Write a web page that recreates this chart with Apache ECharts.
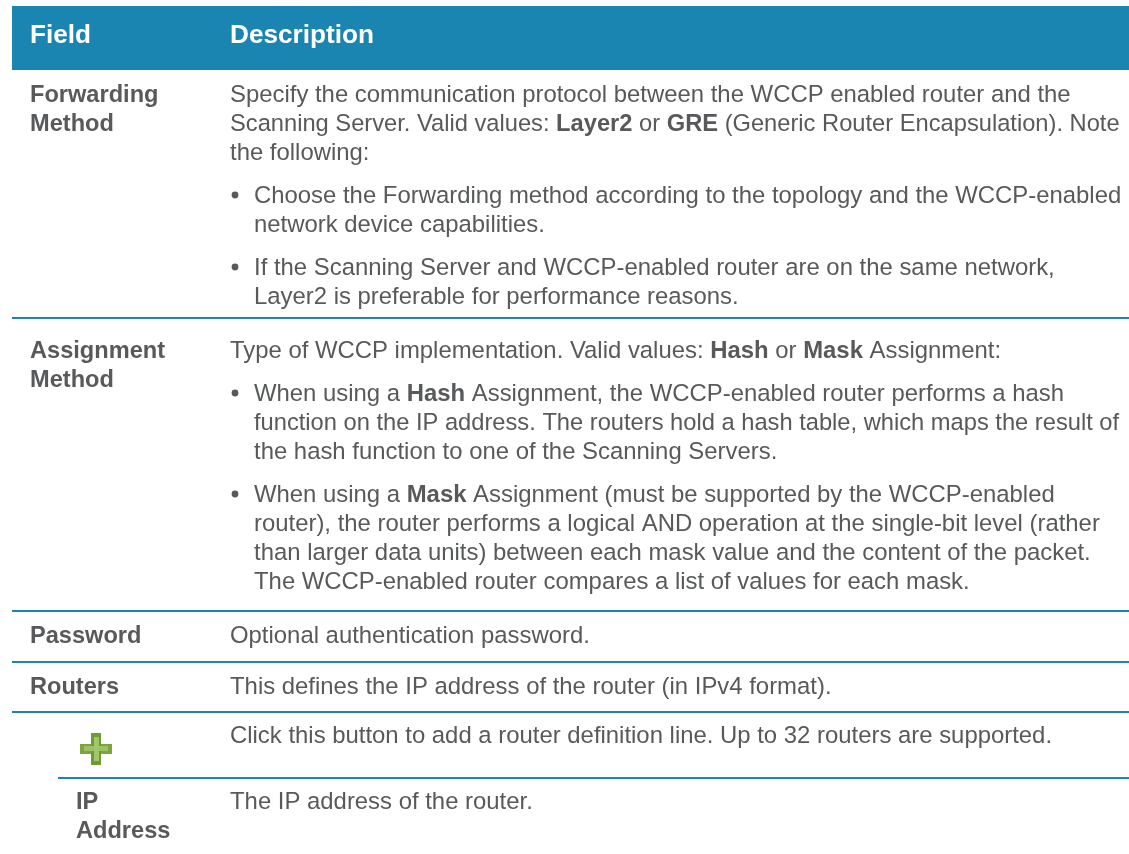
<!DOCTYPE html>
<html><head><meta charset="utf-8">
<style>html,body{margin:0;padding:0;background:#fff}#c{width:1129px;height:854px}</style>
<script src="https://cdn.jsdelivr.net/npm/echarts@6/dist/echarts.min.js"></script>
</head><body><div id="c"></div>
<script>
// Content
const headerLabels = ['Field', 'Description'];
const fieldLabels = ['Forwarding', 'Method', 'Assignment', 'Method', 'Password', 'Routers', 'IP', 'Address'];
const descLines = [
  'Specify the communication protocol between the WCCP enabled router and the',
  'Scanning Server. Valid values: {b|Layer2} or {b|GRE} (Generic Router Encapsulation). Note',
  'the following:',
  'Choose the Forwarding method according to the topology and the WCCP-enabled',
  'network device capabilities.',
  'If the Scanning Server and WCCP-enabled router are on the same network,',
  'Layer2 is preferable for performance reasons.',
  'Type of WCCP implementation. Valid values: {b|Hash} or {b|Mask} Assignment:',
  'When using a {b|Hash} Assignment, the WCCP-enabled router performs a hash',
  'function on the IP address. The routers hold a hash table, which maps the result of',
  'the hash function to one of the Scanning Servers.',
  'When using a {b|Mask} Assignment (must be supported by the WCCP-enabled',
  'router), the router performs a logical AND operation at the single-bit level (rather',
  'than larger data units) between each mask value and the content of the packet.',
  'The WCCP-enabled router compares a list of values for each mask.',
  'Optional authentication password.',
  'This defines the IP address of the router (in IPv4 format).',
  'Click this button to add a router definition line. Up to 32 routers are supported.',
  'The IP address of the router.'
];

// Layout and style, kept apart from the content
const layout = {
  headerX: [30, 230],
  fieldX: [30, 30, 30, 30, 30, 30, 76, 76],
  fieldY: [94, 123, 350, 379, 635, 686, 801, 830],
  descX: [230, 230, 230, 254, 254, 254, 254, 230, 254, 254, 254, 254, 254, 254, 254, 230, 230, 230, 230],
  descY: [94, 123, 152, 195, 224, 267, 296, 350, 393, 422, 451, 494, 523, 552, 581, 635, 686, 735, 801],
  tightLines: [1, 9],
  bulletY: [195, 267, 393, 494],
  separators: [[12, 318], [12, 611], [12, 662], [12, 712], [58, 778]],
  plus: [[80, 744, 32, 10, '#7ea33f'], [91, 733, 10, 32, '#6f9a35'], [84, 746, 24, 5, '#9cc262'], [94, 737, 5, 24, '#a2c76b']]
};
const FONT = '"Liberation Sans", Arial, sans-serif';
const TXT = '#58595b', BLUE = '#1a85b0', SIZE = 23.9, TIGHT = 23.7;
const els = [];
els.push({type:'rect', shape:{x:12,y:6,width:1117,height:64}, style:{fill:BLUE}, silent:true});
headerLabels.forEach((t,i) => els.push({type:'text', x:layout.headerX[i], y:36, style:{text:t, fill:'#fff', font:'bold 26.2px '+FONT, verticalAlign:'middle'}}));
layout.separators.forEach(([x,y]) => els.push({type:'line', shape:{x1:x,y1:y,x2:1129,y2:y}, style:{stroke:BLUE, lineWidth:2}}));
fieldLabels.forEach((t,i) => els.push({type:'text', x:layout.fieldX[i], y:layout.fieldY[i]+1, style:{text:t, fill:TXT, font:'bold 23.6px '+FONT, verticalAlign:'middle'}}));
descLines.forEach((t,i) => {
  const s = layout.tightLines.includes(i) ? TIGHT : SIZE;
  els.push({type:'text', x:layout.descX[i], y:layout.descY[i]+1, style:{text:t, fill:TXT, font:s+'px '+FONT, verticalAlign:'middle',
    rich:{b:{font:'bold '+s+'px '+FONT, fill:TXT}}}});
});
layout.bulletY.forEach(y => els.push({type:'circle', shape:{cx:235,cy:y,r:3.4}, style:{fill:TXT}}));
layout.plus.forEach(([x,y,w,h,f]) => els.push({type:'rect', shape:{x,y,width:w,height:h}, style:{fill:f}}));
const chart = echarts.init(document.getElementById('c'), null, {renderer:'canvas'});
chart.setOption({animation:false, backgroundColor:'#fff', graphic:{elements:els}});
</script></body></html>
